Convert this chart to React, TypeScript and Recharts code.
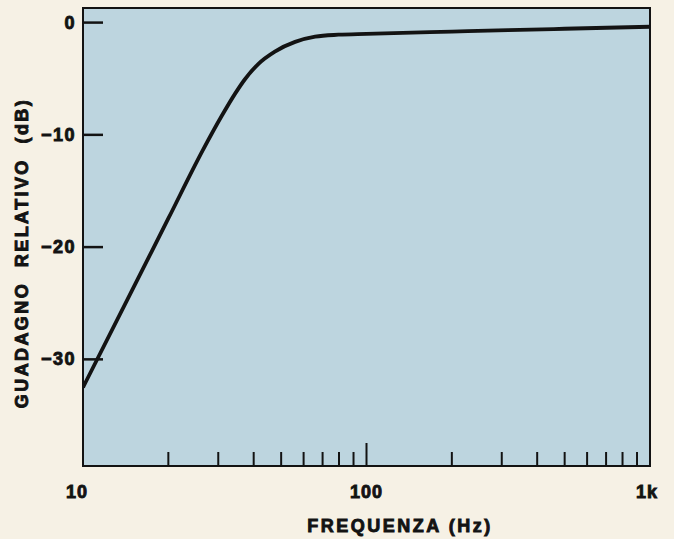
import { LineChart, Line, XAxis, YAxis, CartesianGrid, ReferenceArea, Label } from 'recharts'

// Frequency response: relative gain vs frequency (log axis)
const freqHz = [10, 15, 20, 26.5, 30.8, 34.4, 37.2, 41.5, 47.5, 56, 65.9, 79.6, 100, 200, 316, 500, 1000]
const gainDb = [-32.5, -23.7, -17.45, -11.34, -8.35, -6.33, -5.07, -3.69, -2.58, -1.72, -1.26, -1.08, -1.0, -0.8, -0.67, -0.55, -0.37]

const freqTicks = [10, 20, 30, 40, 50, 60, 70, 80, 90, 100, 200, 300, 400, 500, 600, 700, 800, 900, 1000]
const freqLabels: Record<number, string> = { 10: '10', 100: '100', 1000: '1k' }
const gainTicks = [0, -10, -20, -30]
const gainDomain: [number, number] = [-39.5, 1.3]

const data = freqHz.map((f, i) => ({ f, db: gainDb[i] }))

const INK = '#131313'
const PAPER = '#f6f1e5'
const PANEL = '#bdd5df'
const FONT = '"Liberation Sans", Arial, Helvetica, sans-serif'

// heavy print-style lettering
const textStyle = {
  fontFamily: FONT,
  fontWeight: 700,
  fill: INK,
  stroke: INK,
  strokeWidth: 0.9,
}

function FreqTick({ x, y, payload }: any) {
  const v = payload.value as number
  const label = freqLabels[v]
  const edge = v === 10 || v === 1000
  return (
    <g>
      {!edge && (
        <line x1={x} x2={x} y1={y} y2={y - (v === 100 ? 23 : 14)} stroke={INK} strokeWidth={2} />
      )}
      {label && (
        <text
          x={x + (v === 10 ? -6 : v === 1000 ? -3 : 0)}
          y={y + 32}
          textAnchor="middle"
          fontSize={18}
          letterSpacing={1}
          style={textStyle}
        >
          {label}
        </text>
      )}
    </g>
  )
}

function GainTick({ x, y, payload }: any) {
  const v = payload.value as number
  const txt = v < 0 ? `\u2212${Math.abs(v)}` : String(v)
  return (
    <g>
      <line x1={x} x2={x + 20} y1={y} y2={y} stroke={INK} strokeWidth={2.5} />
      <text
        x={x - 7}
        y={y + 6}
        textAnchor="end"
        fontSize={18}
        letterSpacing={1.5}
        style={textStyle}
      >
        {txt}
      </text>
    </g>
  )
}

export default function App() {
  return (
    <div style={{ position: 'absolute', left: 0, top: 0, width: 674, height: 539, background: PAPER }}>
      <LineChart width={674} height={539} data={data} margin={{ top: 8, right: 24, left: 0, bottom: 0 }}>
        <CartesianGrid fill={PANEL} fillOpacity={1} horizontal={false} vertical={false} />
        <XAxis
          dataKey="f"
          type="number"
          scale="log"
          domain={[10, 1000]}
          ticks={freqTicks}
          allowDataOverflow
          height={73}
          axisLine={false}
          tickLine={false}
          tickSize={0}
          tickMargin={0}
          interval={0}
          tick={FreqTick}
        >
          <Label
            content={({ viewBox }: any) => (
              <text
                x={viewBox.x + 317}
                y={viewBox.y + 66}
                textAnchor="middle"
                fontSize={18}
                letterSpacing={2.5}
                style={textStyle}
              >
                FREQUENZA (Hz)
              </text>
            )}
          />
        </XAxis>
        <YAxis
          type="number"
          domain={gainDomain}
          ticks={gainTicks}
          allowDataOverflow
          width={83}
          axisLine={false}
          tickLine={false}
          tickSize={0}
          tickMargin={0}
          interval={0}
          tick={GainTick}
        >
          <Label
            content={() => (
              <text
                x={22}
                y={253}
                transform="rotate(-90 22 253)"
                textAnchor="middle"
                dominantBaseline="central"
                fontSize={18}
                letterSpacing={2.4}
                style={textStyle}
              >
                {'GUADAGNO\u00a0 RELATIVO\u00a0 (dB)'}
              </text>
            )}
          />
        </YAxis>
        <ReferenceArea
          x1={10}
          x2={1000}
          y1={gainDomain[0]}
          y2={gainDomain[1]}
          fill="none"
          stroke={INK}
          strokeWidth={2}
          ifOverflow="visible"
        />
        <Line
          type="monotone"
          dataKey="db"
          stroke={INK}
          strokeWidth={3.8}
          dot={false}
          isAnimationActive={false}
        />
      </LineChart>
    </div>
  )
}
